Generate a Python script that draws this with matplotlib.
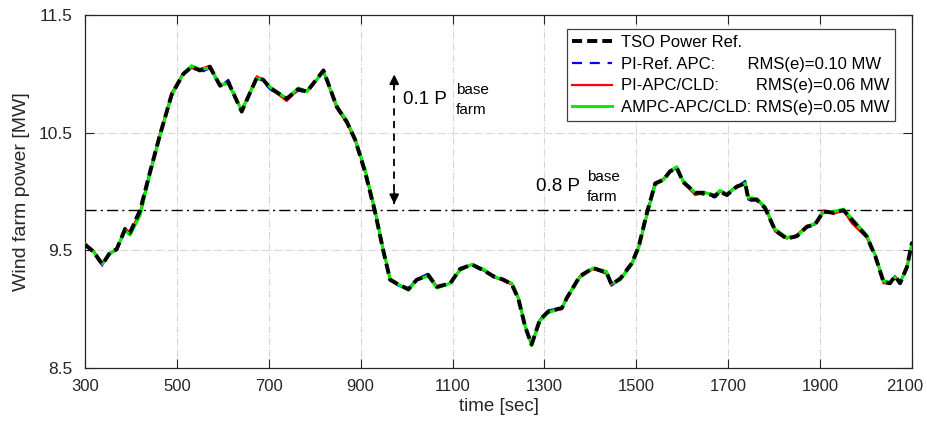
import matplotlib
matplotlib.use("Agg")
import matplotlib.pyplot as plt
import matplotlib.transforms as mtransforms

# Data
time_sec = [300, 318, 338, 354, 369, 387, 398, 420, 441, 463, 489, 514, 532, 550, 572,
            594, 612, 641, 674, 688, 703, 739, 764, 783, 819, 848, 870, 888, 910, 931,
            949, 964, 982, 1004, 1022, 1047, 1066, 1095, 1116, 1142, 1167, 1189, 1211,
            1229, 1243, 1258, 1272, 1290, 1308, 1338, 1348, 1377, 1406, 1435, 1446, 1465,
            1490, 1505, 1523, 1541, 1559, 1573, 1588, 1602, 1628, 1650, 1671, 1682, 1697,
            1718, 1737, 1744, 1762, 1780, 1802, 1827, 1849, 1871, 1889, 1907, 1929, 1951,
            1969, 2001, 2020, 2038, 2052, 2063, 2074, 2089, 2100]

tso_ref = [9.55, 9.49, 9.38, 9.48, 9.51, 9.68, 9.65, 9.84, 10.16, 10.48, 10.83, 11.00, 11.06, 11.03, 11.06,
           10.90, 10.93, 10.68, 10.97, 10.95, 10.88, 10.79, 10.87, 10.85, 11.03, 10.72, 10.59, 10.44, 10.16, 9.83,
           9.50, 9.25, 9.21, 9.17, 9.25, 9.29, 9.19, 9.22, 9.34, 9.38, 9.33, 9.28, 9.25,
           9.21, 9.09, 8.85, 8.70, 8.91, 8.98, 9.01, 9.09, 9.28, 9.35, 9.31, 9.21, 9.26,
           9.39, 9.53, 9.82, 10.07, 10.10, 10.17, 10.20, 10.08, 9.99, 9.99, 9.96, 10.00, 9.97,
           10.04, 10.07, 9.93, 9.93, 9.86, 9.67, 9.60, 9.62, 9.70, 9.72, 9.83, 9.82, 9.84,
           9.76, 9.62, 9.45, 9.23, 9.22, 9.28, 9.22, 9.36, 9.57]

pi_ref_apc = [9.55, 9.48, 9.37, 9.47, 9.51, 9.67, 9.66, 9.86, 10.16, 10.48, 10.83, 11.01, 11.06, 11.01, 11.05,
              10.89, 10.95, 10.68, 10.97, 10.93, 10.87, 10.78, 10.86, 10.84, 11.03, 10.72, 10.60, 10.44, 10.16, 9.83,
              9.50, 9.25, 9.20, 9.17, 9.26, 9.30, 9.19, 9.22, 9.35, 9.37, 9.33, 9.27, 9.25,
              9.21, 9.09, 8.85, 8.70, 8.91, 8.99, 9.01, 9.09, 9.29, 9.35, 9.30, 9.20, 9.26,
              9.38, 9.53, 9.82, 10.08, 10.10, 10.17, 10.20, 10.08, 9.99, 9.97, 9.95, 10.00, 9.97,
              10.04, 10.09, 9.93, 9.93, 9.86, 9.68, 9.59, 9.62, 9.70, 9.72, 9.83, 9.82, 9.84,
              9.76, 9.62, 9.45, 9.23, 9.22, 9.28, 9.22, 9.36, 9.57]

pi_apc_cld = [9.55, 9.50, 9.38, 9.48, 9.50, 9.69, 9.65, 9.83, 10.15, 10.49, 10.84, 11.01, 11.05, 11.04, 11.07,
              10.90, 10.92, 10.69, 10.98, 10.95, 10.88, 10.77, 10.87, 10.86, 11.02, 10.71, 10.58, 10.43, 10.17, 9.84,
              9.50, 9.25, 9.21, 9.17, 9.25, 9.29, 9.19, 9.22, 9.34, 9.38, 9.33, 9.28, 9.24,
              9.21, 9.09, 8.85, 8.70, 8.90, 8.98, 9.00, 9.10, 9.28, 9.34, 9.31, 9.21, 9.25,
              9.39, 9.53, 9.81, 10.06, 10.11, 10.18, 10.21, 10.08, 9.97, 9.99, 9.96, 10.00, 9.98,
              10.05, 10.07, 9.94, 9.93, 9.87, 9.66, 9.60, 9.63, 9.71, 9.72, 9.84, 9.81, 9.84,
              9.73, 9.61, 9.46, 9.22, 9.22, 9.28, 9.22, 9.37, 9.57]

ampc_apc_cld = [9.55, 9.49, 9.39, 9.47, 9.51, 9.67, 9.63, 9.80, 10.14, 10.47, 10.82, 11.00, 11.07, 11.04, 11.05,
                10.91, 10.92, 10.69, 10.96, 10.95, 10.89, 10.79, 10.88, 10.85, 11.02, 10.73, 10.60, 10.45, 10.18, 9.85,
                9.51, 9.26, 9.21, 9.16, 9.25, 9.28, 9.18, 9.22, 9.33, 9.38, 9.34, 9.28, 9.25,
                9.22, 9.10, 8.86, 8.69, 8.90, 8.97, 9.01, 9.09, 9.27, 9.35, 9.32, 9.22, 9.25,
                9.38, 9.52, 9.80, 10.06, 10.10, 10.17, 10.21, 10.09, 9.99, 9.99, 9.97, 10.01, 9.98,
                10.04, 10.07, 9.95, 9.94, 9.87, 9.68, 9.61, 9.62, 9.70, 9.73, 9.82, 9.83, 9.85,
                9.77, 9.63, 9.46, 9.24, 9.23, 9.27, 9.23, 9.35, 9.55]

labels = ["TSO Power Ref.",
          "PI-Ref. APC:       RMS(e)=0.10 MW",
          "PI-APC/CLD:        RMS(e)=0.06 MW",
          "AMPC-APC/CLD: RMS(e)=0.05 MW"]

x_ticks = [300, 500, 700, 900, 1100, 1300, 1500, 1700, 1900, 2100]
y_ticks = [8.5, 9.5, 10.5, 11.5]

p_08_base = 9.84      # 0.8 P_farm^base
arrow_top = 11.02     # top of the 0.1 P_farm^base arrow
arrow_x = 973

plt.rcParams['font.family'] = ['Liberation Sans', 'DejaVu Sans']

fig = plt.figure(figsize=(9.28, 4.21), dpi=100)
ax = fig.add_axes([0.0916, 0.126, 0.8912, 0.838])

# Grid (MATLAB-like light dash-dot)
for xv in x_ticks[1:-1]:
    ax.axvline(xv, color='#d6d6d6', lw=0.8, ls='-.', zorder=0)
for yv in y_ticks[1:-1]:
    ax.axhline(yv, color='#d6d6d6', lw=0.8, ls='-.', zorder=0)

# 0.8 P base line
ax.axhline(p_08_base, color='black', lw=1.0, ls='-.', dashes=(8, 3, 1.5, 3), zorder=1)

l_ref, = ax.plot(time_sec, tso_ref, color='black', lw=2.8, dashes=(2.6, 1.3), zorder=5)
l_pi, = ax.plot(time_sec, pi_ref_apc, color='#0000ff', lw=1.6, dashes=(4.5, 3.5), zorder=2)
l_cld, = ax.plot(time_sec, pi_apc_cld, color='#ff0000', lw=1.6, zorder=3)
l_ampc, = ax.plot(time_sec, ampc_apc_cld, color='#00ee00', lw=2.2, zorder=4)

# Dashed double arrow for 0.1 P base
ax.plot([arrow_x, arrow_x], [p_08_base + 0.05, arrow_top - 0.05], color='black', lw=1.3,
        dashes=(4, 3), zorder=6)
ax.annotate('', xy=(arrow_x, arrow_top), xytext=(arrow_x, arrow_top - 0.15),
            arrowprops=dict(arrowstyle='-|>', color='black', lw=1.3, mutation_scale=14))
ax.annotate('', xy=(arrow_x, p_08_base + 0.03), xytext=(arrow_x, p_08_base + 0.18),
            arrowprops=dict(arrowstyle='-|>', color='black', lw=1.3, mutation_scale=14))

ax.text(992, 10.786, '0.1 P', fontsize=13.5, va='center', ha='left')
ax.text(1107, 10.86, 'base', fontsize=11, va='center', ha='left')
ax.text(1107, 10.69, 'farm', fontsize=11, va='center', ha='left')
ax.text(1281, 10.041, '0.8 P', fontsize=13.5, va='center', ha='left')
ax.text(1393, 10.12, 'base', fontsize=11, va='center', ha='left')
ax.text(1393, 9.955, 'farm', fontsize=11, va='center', ha='left')

ax.set_xlim(300, 2100)
ax.set_ylim(8.5, 11.5)
ax.set_xticks(x_ticks)
ax.set_yticks(y_ticks)
ax.set_yticklabels(['8.5', '9.5', '10.5', '11.5'])
ax.tick_params(direction='in', top=True, right=True, length=6.5, width=0.8,
               labelsize=12.5, colors='#262626')
ax.tick_params(axis='x', pad=8, labelsize=12)
ax.tick_params(axis='y', pad=9)
# keep the last x label inside the picture (as in the reference)
last = ax.get_xticklabels()[-1]
last.set_transform(last.get_transform() +
                   mtransforms.ScaledTranslation(-5 / 72, 0, fig.dpi_scale_trans))
for s in ax.spines.values():
    s.set_linewidth(0.9)
    s.set_color('#262626')

ax.set_xlabel('time [sec]', fontsize=13.5, color='#262626', labelpad=3)
ax.set_ylabel('Wind farm power [MW]', fontsize=14, color='#262626', labelpad=6)

leg = ax.legend([l_ref, l_pi, l_cld, l_ampc], labels, loc='upper right',
                bbox_to_anchor=(0.9795, 0.96), borderaxespad=0, fontsize=12,
                handlelength=2.4, handletextpad=0.5, labelspacing=0.4,
                borderpad=0.35, fancybox=False, framealpha=1, edgecolor='#404040')
leg.get_frame().set_linewidth(0.9)

fig.savefig('out.png', dpi=100)
